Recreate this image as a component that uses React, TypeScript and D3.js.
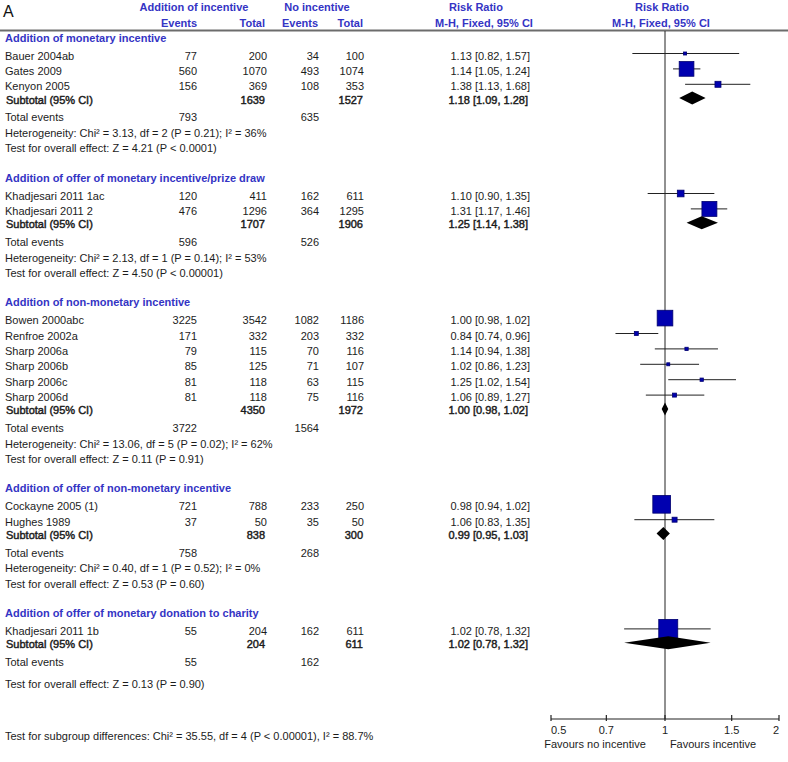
import React from "react";
import * as d3 from "d3";

// ---------- data ----------
const groupNames = [
  "Addition  of monetary  incentive",
  "Addition  of offer  of monetary  incentive/prize draw",
  "Addition  of non-monetary  incentive",
  "Addition  of offer  of non-monetary  incentive",
  "Addition  of offer  of monetary  donation to charity",
];
const studyNames = [
  "Bauer 2004ab", "Gates 2009", "Kenyon 2005",
  "Khadjesari 2011 1ac", "Khadjesari 2011 2",
  "Bowen 2000abc", "Renfroe 2002a", "Sharp 2006a", "Sharp 2006b", "Sharp 2006c", "Sharp 2006d",
  "Cockayne 2005 (1)", "Hughes  1989",
  "Khadjesari 2011 1b",
];
const studyGroup = [0, 0, 0, 1, 1, 2, 2, 2, 2, 2, 2, 3, 3, 4];
const evInc = [77, 560, 156, 120, 476, 3225, 171, 79, 85, 81, 81, 721, 37, 55];
const totInc = [200, 1070, 369, 411, 1296, 3542, 332, 115, 125, 118, 118, 788, 50, 204];
const evNo = [34, 493, 108, 162, 364, 1082, 203, 70, 71, 63, 75, 233, 35, 162];
const totNo = [100, 1074, 353, 611, 1295, 1186, 332, 116, 107, 115, 116, 250, 50, 611];
const studyRR = [1.13, 1.14, 1.38, 1.10, 1.31, 1.00, 0.84, 1.14, 1.02, 1.25, 1.06, 0.98, 1.06, 1.02];
const studyLo = [0.82, 1.05, 1.13, 0.90, 1.17, 0.98, 0.74, 0.94, 0.86, 1.02, 0.89, 0.94, 0.83, 0.78];
const studyHi = [1.57, 1.24, 1.68, 1.35, 1.46, 1.02, 0.96, 1.38, 1.23, 1.54, 1.27, 1.02, 1.35, 1.32];
const studyWeight = [2.5, 60, 10, 12.4, 62, 68, 4.4, 3, 2.5, 3, 4.4, 87, 6.9, 100];

const groupTotInc = [1639, 1707, 4350, 838, 204];
const groupTotNo = [1527, 1906, 1972, 300, 611];
const groupEvInc = [793, 596, 3722, 758, 55];
const groupEvNo = [635, 526, 1564, 268, 162];
const groupRR = [1.18, 1.25, 1.00, 0.99, 1.02];
const groupLo = [1.09, 1.14, 0.98, 0.95, 0.78];
const groupHi = [1.28, 1.38, 1.02, 1.03, 1.32];
const groupHet: (string | null)[] = [
  "Heterogeneity: Chi² = 3.13, df = 2 (P  = 0.21); I² = 36%",
  "Heterogeneity: Chi² = 2.13, df = 1 (P  = 0.14); I² = 53%",
  "Heterogeneity: Chi² = 13.06, df = 5 (P = 0.02); I² = 62%",
  "Heterogeneity: Chi² = 0.40, df = 1 (P  = 0.52); I² = 0%",
  null,
];
const groupTest = [
  "Test for overall effect: Z = 4.21 (P < 0.0001)",
  "Test for overall effect: Z = 4.50 (P < 0.00001)",
  "Test for overall effect: Z = 0.11 (P = 0.91)",
  "Test for overall effect: Z = 0.53 (P = 0.60)",
  "Test for overall effect: Z = 0.13 (P = 0.90)",
];
const subgroupTest = "Test for subgroup differences: Chi² = 35.55, df = 4 (P < 0.00001), I² = 88.7%";
const axisTicks = [0.5, 0.7, 1, 1.5, 2];
const favoursLeft = "Favours no incentive";
const favoursRight = "Favours incentive";

// ---------- layout ----------
const W = 788, H = 762;
const FONT = "'Liberation Sans', Arial, sans-serif";
const BLUE = "#3434c4";
const TXT = "#1c1c1c";
const x = d3.scaleLog().domain([0.5, 2]).range([551, 779]);
const size = d3.scaleSqrt().domain([0, 100]).range([0, 19]);
const fmt = (r: number, l: number, h: number) => `${r.toFixed(2)} [${l.toFixed(2)}, ${h.toFixed(2)}]`;

const COL = { name: 5, ev1: 197, tot1: 267, ev2: 319, tot2: 364, rr: 530 };
const AXIS_Y = 719;

type Row =
  | { kind: "header"; g: number; y: number }
  | { kind: "study"; i: number; y: number }
  | { kind: "subtotal"; g: number; y: number }
  | { kind: "total"; g: number; y: number }
  | { kind: "text"; text: string; y: number };

function buildRows(): Row[] {
  const rows: Row[] = [];
  let y = 37.5;
  groupNames.forEach((_, g) => {
    rows.push({ kind: "header", g, y });
    y += 18;
    const idx = studyGroup.map((sg, i) => (sg === g ? i : -1)).filter((i) => i >= 0);
    idx.forEach((i, k) => {
      if (k > 0) y += 15.4;
      rows.push({ kind: "study", i, y });
    });
    y += 13.3;
    rows.push({ kind: "subtotal", g, y });
    y += 17.8;
    rows.push({ kind: "total", g, y });
    const het = groupHet[g];
    if (het) {
      y += 15.5;
      rows.push({ kind: "text", text: het, y });
      y += 15.4;
    } else {
      y += 21.6;
    }
    rows.push({ kind: "text", text: groupTest[g], y });
    y += 29.2;
  });
  return rows;
}

export default function App() {
  const rows = buildRows();
  const t = (
    key: string,
    xx: number,
    cy: number,
    s: string,
    anchor: "start" | "middle" | "end" = "start",
    weight: "normal" | "semi" | "bold" = "normal",
    fill = TXT
  ) => (
    <text
      key={key}
      x={xx}
      y={cy + 4}
      textAnchor={anchor}
      fontWeight={weight === "bold" ? "bold" : "normal"}
      fill={fill}
      stroke={weight === "semi" ? fill : "none"}
      strokeWidth={weight === "semi" ? 0.45 : 0}
    >
      {s}
    </text>
  );
  const els: React.ReactNode[] = [];
  rows.forEach((r, k) => {
    if (r.kind === "header") {
      els.push(t(`h${k}`, COL.name, r.y, groupNames[r.g], "start", "bold", BLUE));
    } else if (r.kind === "study") {
      const i = r.i;
      els.push(t(`n${k}`, COL.name, r.y, studyNames[i]));
      els.push(t(`a${k}`, COL.ev1, r.y, String(evInc[i]), "end"));
      els.push(t(`b${k}`, COL.tot1, r.y, String(totInc[i]), "end"));
      els.push(t(`c${k}`, COL.ev2, r.y, String(evNo[i]), "end"));
      els.push(t(`d${k}`, COL.tot2, r.y, String(totNo[i]), "end"));
      els.push(t(`r${k}`, COL.rr, r.y, fmt(studyRR[i], studyLo[i], studyHi[i]), "end"));
      const my = r.y - 2;
      const s = Math.max(3, size(studyWeight[i]));
      els.push(
        <line key={`ci${k}`} x1={x(studyLo[i])} x2={x(studyHi[i])} y1={my} y2={my} stroke="#222" strokeWidth={1} />
      );
      els.push(
        <rect key={`sq${k}`} x={x(studyRR[i]) - s / 2} y={my - s / 2} width={s} height={s} fill="#0000b0" stroke="#00006e" strokeWidth={0.8} />
      );
    } else if (r.kind === "subtotal") {
      const g = r.g;
      els.push(t(`sn${k}`, COL.name + 1, r.y, "Subtotal  (95% CI)", "start", "semi"));
      els.push(t(`sb${k}`, COL.tot1 - 2, r.y, String(groupTotInc[g]), "end", "semi"));
      els.push(t(`sd${k}`, COL.tot2 - 1, r.y, String(groupTotNo[g]), "end", "semi"));
      els.push(t(`sr${k}`, COL.rr - 2, r.y, fmt(groupRR[g], groupLo[g], groupHi[g]), "end", "semi"));
      const my = r.y - 1.5;
      const hh = 6.5;
      const pts = [
        [x(groupLo[g]), my],
        [x(groupRR[g]), my - hh],
        [x(groupHi[g]), my],
        [x(groupRR[g]), my + hh],
      ];
      els.push(<polygon key={`dm${k}`} points={pts.map((p) => p.join(",")).join(" ")} fill="#000" />);
    } else if (r.kind === "total") {
      const g = r.g;
      els.push(t(`tn${k}`, COL.name, r.y, "Total events"));
      els.push(t(`ta${k}`, COL.ev1, r.y, String(groupEvInc[g]), "end"));
      els.push(t(`tc${k}`, COL.ev2, r.y, String(groupEvNo[g]), "end"));
    } else {
      els.push(t(`x${k}`, COL.name, r.y, r.text));
    }
  });

  return (
    <svg
      width={W}
      height={H}
      style={{ position: "absolute", left: 0, top: 0, background: "#fff" }}
      fontFamily={FONT}
      fontSize={11}
    >
      <rect x={0} y={0} width={W} height={H} fill="#fff" />
      <text x={3} y={17} fontSize={16} fill="#111">A</text>
      {/* column headers */}
      <g fill={BLUE} fontWeight="bold">
        <text x={194} y={10.5} textAnchor="middle">Addition  of incentive</text>
        <text x={317} y={10.5} textAnchor="middle">No incentive</text>
        <text x={197} y={26.5} textAnchor="end">Events</text>
        <text x={265} y={26.5} textAnchor="end">Total</text>
        <text x={318} y={26.5} textAnchor="end">Events</text>
        <text x={363} y={26.5} textAnchor="end">Total</text>
        <text x={476} y={10.5} textAnchor="middle">Risk Ratio</text>
        <text x={484} y={26.5} textAnchor="middle">M-H, Fixed, 95% CI</text>
        <text x={662} y={10.5} textAnchor="middle">Risk Ratio</text>
        <text x={661} y={26.5} textAnchor="middle">M-H, Fixed, 95% CI</text>
      </g>
      <line x1={0} x2={W} y1={30.5} y2={30.5} stroke="#6c6c6c" strokeWidth={2} />
      {/* line of no effect */}
      <line x1={x(1)} x2={x(1)} y1={31} y2={AXIS_Y} stroke="#222" strokeWidth={1} />
      {els}
      {/* axis */}
      <g>
        <line x1={x(0.5)} x2={x(2)} y1={AXIS_Y} y2={AXIS_Y} stroke="#222" strokeWidth={1.2} />
        {axisTicks.map((v, i) => (
          <g key={`tk${i}`}>
            <line x1={x(v)} x2={x(v)} y1={AXIS_Y - 4} y2={AXIS_Y + 2} stroke="#222" strokeWidth={1.2} />
            <text
              x={x(v)}
              y={734}
              fill={TXT}
              textAnchor={i === 0 ? "start" : i === axisTicks.length - 1 ? "end" : "middle"}
            >
              {String(v)}
            </text>
          </g>
        ))}
        <text x={595} y={748} textAnchor="middle" fill={TXT}>{favoursLeft}</text>
        <text x={713} y={748} textAnchor="middle" fill={TXT}>{favoursRight}</text>
      </g>
      {t("sg", COL.name, 735.7, subgroupTest)}
    </svg>
  );
}
